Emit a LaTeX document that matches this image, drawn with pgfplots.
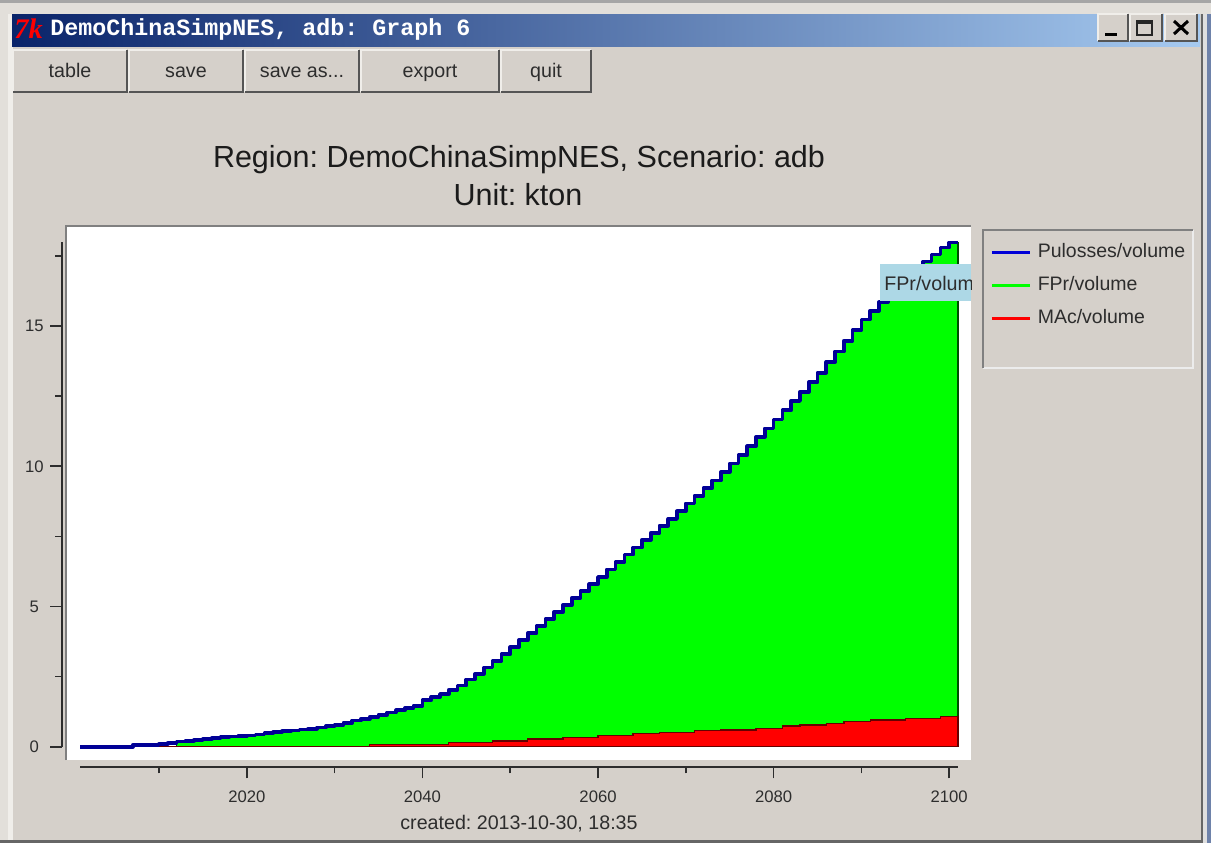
\documentclass[border=0pt]{standalone}
\usepackage{pgfplots}
\pgfplotsset{compat=1.18}
\usepackage{pgfplotstable}
\usepackage{fontspec}
\setmainfont{Liberation Sans}
\newfontfamily\monob{Liberation Mono}
\newfontfamily\serifb{Liberation Serif}
\definecolor{winbg}{RGB}{213,208,202}
\definecolor{winlight}{RGB}{226,223,218}
\definecolor{winlighter}{RGB}{240,238,234}
\definecolor{tbl}{RGB}{10,36,106}
\definecolor{tbr}{RGB}{166,202,240}
\definecolor{txt}{RGB}{45,45,45}
\definecolor{edge}{RGB}{85,85,85}
\definecolor{tip}{RGB}{173,216,230}
\definecolor{bluel}{RGB}{0,0,150}
\definecolor{bluek}{RGB}{0,0,215}
\definecolor{frameblue}{RGB}{110,130,170}
\pgfplotstableread{
year total
2001 0
2002 0
2003 0
2004 0
2005 0
2006 0
2007 .06
2008 .06
2009 .06
2010 .10
2011 .14
2012 .18
2013 .21
2014 .24
2015 .28
2016 .31
2017 .34
2018 .36
2019 .38
2020 .40
2021 .44
2022 .48
2023 .52
2024 .55
2025 .58
2026 .61
2027 .64
2028 .68
2029 .73
2030 .78
2031 .85
2032 .93
2033 1.0
2034 1.07
2035 1.14
2036 1.22
2037 1.3
2038 1.38
2039 1.46
2040 1.66
2041 1.77
2042 1.88
2043 2.03
2044 2.18
2045 2.4
2046 2.6
2047 2.82
2048 3.05
2049 3.3
2050 3.55
2051 3.8
2052 4.05
2053 4.3
2054 4.55
2055 4.8
2056 5.05
2057 5.3
2058 5.55
2059 5.8
2060 6.05
2061 6.32
2062 6.58
2063 6.85
2064 7.1
2065 7.38
2066 7.63
2067 7.88
2068 8.12
2069 8.4
2070 8.68
2071 8.95
2072 9.22
2073 9.5
2074 9.8
2075 10.1
2076 10.4
2077 10.72
2078 11.05
2079 11.35
2080 11.67
2081 12.0
2082 12.33
2083 12.66
2084 13.0
2085 13.34
2086 13.72
2087 14.1
2088 14.48
2089 14.86
2090 15.24
2091 15.55
2092 15.85
2093 16.15
2094 16.45
2095 16.75
2096 17.05
2097 17.3
2098 17.56
2099 17.8
2100 17.98
2101 17.98
}\totaltable
\pgfplotstableread{
year mac
2001 0
2034 .07
2043 .15
2048 .2
2052 .27
2056 .33
2060 .39
2064 .46
2067 .51
2071 .57
2074 .6
2078 .66
2081 .74
2083 .78
2086 .83
2088 .89
2091 .95
2095 1.01
2099 1.08
2101 1.08
}\mactable
\pgfplotstableread{
year fpr
2001 0
2011 0
2012 .16
2013 .19
2014 .22
2015 .26
2016 .29
2017 .32
2018 .34
2019 .36
2020 .38
2021 .42
2022 .46
2023 .50
2024 .53
2025 .56
2026 .59
2027 .62
2028 .66
2029 .71
2030 .76
2031 .83
2032 .91
2033 .98
2034 1.05
2035 1.12
2036 1.20
2037 1.28
2038 1.36
2039 1.44
2040 1.64
2041 1.75
2042 1.86
2043 2.01
2044 2.16
2045 2.38
2046 2.58
2047 2.80
2048 3.03
2049 3.28
2050 3.53
2051 3.78
2052 4.03
2053 4.28
2054 4.53
2055 4.78
2056 5.03
2057 5.28
2058 5.53
2059 5.78
2060 6.03
2061 6.30
2062 6.56
2063 6.83
2064 7.08
2065 7.36
2066 7.61
2067 7.86
2068 8.10
2069 8.38
2070 8.66
2071 8.93
2072 9.20
2073 9.48
2074 9.78
2075 10.08
2076 10.38
2077 10.70
2078 11.03
2079 11.33
2080 11.65
2081 11.98
2082 12.31
2083 12.64
2084 12.98
2085 13.32
2086 13.70
2087 14.08
2088 14.46
2089 14.84
2090 15.22
2091 15.53
2092 15.83
2093 16.13
2094 16.43
2095 16.73
2096 17.03
2097 17.28
2098 17.54
2099 17.78
2100 17.96
2101 17.96
}\fprtable
\newcommand{\fs}[1]{\fontsize{#1}{#1}\selectfont}
\newcommand{\btn}[3]{%
  \fill[winbg] (#1,50) rectangle (#2,92);
  \draw[winlighter,line width=1pt] (#1,92) -- (#1,50) -- (#2,50);
  \draw[edge,line width=1.3pt] (#1,92) -- (#2,92) -- (#2,50);
  \node[txt,font=\fs{11.8pt},anchor=base] at ({(#1+#2)/2},77.5) {#3};}
\frenchspacing
\begin{document}
\begin{tikzpicture}
\begin{scope}[x=0.6pt,y=-0.6pt]
\useasboundingbox (0,0) rectangle (1211,843);
% window frame
\fill[winlight] (0,0) rectangle (1211,843);
\fill[gray!70] (0,0) rectangle (1211,3);
\fill[winlighter] (8,14) rectangle (13,840);
\fill[winbg] (13,14) rectangle (1201,840);
\fill[gray!80!black] (0,840) rectangle (1211,843);
\fill[gray!80!black] (1201,14) rectangle (1203,843);
\fill[white!75!gray] (1203,14) rectangle (1207,843);
\fill[frameblue] (1207,14) rectangle (1211,843);
% title bar
\shade[left color=tbl,right color=tbr] (12,14) rectangle (1200,46);
\node[red,font=\serifb\bfseries\itshape\fs{17pt},anchor=west,inner sep=0pt] at (14,29) {7k};
\node[white,font=\monob\bfseries\fs{14pt},anchor=west,inner sep=0pt] at (50,29) {DemoChinaSimpNES, adb: Graph 6};
% window buttons
\foreach \a/\b in {1098/1128,1130/1162,1165/1197}{
  \fill[winbg] (\a,14) rectangle (\b,41);
  \draw[winlighter,line width=.7pt] (\a,41) -- (\a,14) -- (\b,14);
  \draw[edge,line width=.8pt] (\a,41) -- (\b,41) -- (\b,14);}
\fill[black] (1105,33) rectangle (1117,36);
\draw[black!85,line width=1pt] (1137,21) rectangle (1152,35);
\fill[black!85] (1137,20) rectangle (1152,24);
\draw[black,line width=1.8pt] (1174,21) -- (1188,34) (1188,21) -- (1174,34);
% buttons
\btn{13}{127}{table}
\btn{129}{243}{save}
\btn{245}{359}{save as...}
\btn{361}{499}{export}
\btn{501}{591}{quit}
% titles
\node[txt!60!black,font=\fs{18.3pt}] at (519,160) {Region: DemoChinaSimpNES, Scenario: adb};
\node[txt!60!black,font=\fs{18.3pt}] at (518,195) {Unit: kton};
\node[txt,font=\fs{11.8pt}] at (519,824) {created: 2013-10-30, 18:35};
% plot panel
\fill[white] (66,226) rectangle (971,760);
\draw[gray,line width=1pt] (66,760) -- (66,226) -- (971,226);
% legend panel
\draw[white!85!gray,line width=1pt] (983,368) -- (1193,368) -- (1193,230);
\draw[gray,line width=1pt] (983,368) -- (983,230) -- (1193,230);
\end{scope}
\begin{axis}[
  at={(48pt,-448.02pt)},anchor=south west,
  scale only axis,width=526.8pt,height=302.82pt,
  xmin=2001,xmax=2101,ymin=0,ymax=18,
  clip=false,
  separate axis lines,
  axis x line=bottom,axis y line=left,
  axis x line shift=12pt,axis y line shift=10.8pt,
  axis line style={-,draw=txt,line width=1.2pt},
  xtick={2020,2040,2060,2080,2100},
  minor xtick={2010,2030,2050,2070,2090},
  ytick={0,5,10,15},
  minor ytick={2.5,7.5,12.5,17.5},
  tick align=outside,
  major tick length=7pt,minor tick length=4pt,
  every tick/.style={draw=txt,line width=1pt},
  /pgf/number format/1000 sep={},
  /pgf/number format/assume math mode=true,
  tick label style={font=\fs{10pt},text=txt},
  yticklabel style={anchor=center,xshift=-9.6pt},
  xticklabel style={anchor=center,yshift=-11pt},
  legend cell align=left,
  legend style={at={(1.0364,1.012)},anchor=north west,draw=none,fill=none,
    font=\fs{11.7pt},text=txt,inner sep=0pt,outer sep=0pt,row sep=0pt,
    nodes={inner sep=0pt,text height=13pt,text depth=6.8pt}},
  legend image code/.code={\draw[#1] (0pt,0pt) -- (23pt,0pt);},
]
\addlegendimage{bluek,line width=2.3pt}
\addlegendentry{\hspace{3.4pt}Pulosses/volume}
\addlegendimage{green,line width=2.3pt}
\addlegendentry{\hspace{3.4pt}FPr/volume}
\addlegendimage{red,line width=2.3pt}
\addlegendentry{\hspace{3.4pt}MAc/volume}
\addplot[forget plot,const plot,fill=green,draw=black!70!green,line width=.8pt] table[x=year,y=fpr] {\fprtable} \closedcycle;
\addplot[forget plot,const plot,fill=red,draw=black!60!red,line width=.8pt] table[x=year,y=mac] {\mactable} \closedcycle;
\addplot[forget plot,const plot,bluel,line width=2.2pt,line join=round] table[x=year,y=total] {\totaltable};
\end{axis}
% hover label
\begin{scope}[x=0.6pt,y=-0.6pt]
\fill[tip] (880,264) rectangle (971,301);
\clip (880,264) rectangle (971,301);
\node[txt,font=\fs{11.8pt},anchor=west,inner sep=0pt] at (884,283) {FPr/volume};
\end{scope}
\end{tikzpicture}
\end{document}
